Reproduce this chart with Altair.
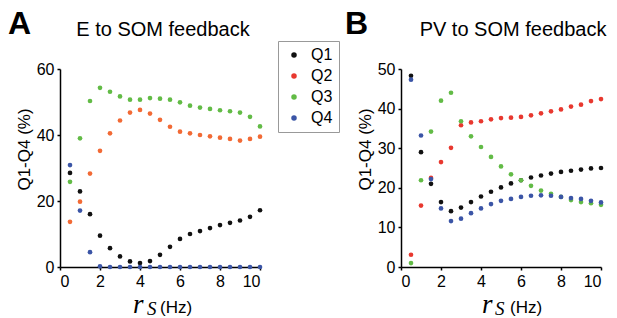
import altair as alt
import pandas as pd

freq = [0.5, 1.0, 1.5, 2.0, 2.5, 3.0, 3.5, 4.0, 4.5, 5.0,
        5.5, 6.0, 6.5, 7.0, 7.5, 8.0, 8.5, 9.0, 9.5, 10.0]
quartiles = ["Q1", "Q2", "Q3", "Q4"]

# Panel A: E to SOM feedback
e_q1 = [28.5, 22.9, 16.0, 9.5, 5.7, 3.2, 1.7, 1.2, 1.8, 3.7,
        6.1, 8.5, 10.0, 10.9, 11.8, 12.7, 13.4, 14.1, 15.2, 17.2]
e_q2 = [13.7, 19.8, 28.3, 35.2, 40.5, 44.4, 46.8, 47.6, 46.5, 44.6,
        42.5, 41.0, 40.5, 40.0, 39.6, 39.2, 38.8, 38.3, 38.8, 39.5]
e_q3 = [25.8, 39.0, 50.3, 54.3, 53.1, 51.7, 50.7, 50.7, 51.2, 51.0,
        50.7, 49.9, 48.9, 48.3, 47.9, 47.5, 47.2, 46.8, 45.5, 42.6]
e_q4 = [30.9, 17.1, 4.5, 0.2, 0.0, 0.0, 0.0, 0.0, 0.0, 0.0,
        0.0, 0.0, 0.0, 0.0, 0.0, 0.0, 0.0, 0.0, 0.0, 0.0]

# Panel B: PV to SOM feedback
pv_q1 = [48.3, 29.0, 21.0, 16.4, 14.1, 15.0, 16.4, 17.8, 19.0, 20.1,
         21.1, 21.9, 22.6, 23.1, 23.6, 24.0, 24.3, 24.6, 24.9, 25.0]
pv_q2 = [3.1, 15.5, 22.5, 26.5, 30.1, 35.8, 36.5, 36.8, 37.3, 37.6,
         37.7, 37.9, 38.3, 38.8, 39.3, 39.8, 40.5, 41.0, 41.9, 42.4]
pv_q3 = [1.0, 21.9, 34.2, 42.0, 44.0, 36.8, 33.0, 30.3, 27.8, 25.4,
         23.4, 21.9, 20.5, 19.3, 18.5, 17.7, 16.9, 16.4, 16.1, 15.7]
pv_q4 = [47.3, 33.2, 22.2, 14.8, 11.6, 12.2, 13.6, 14.8, 15.9, 16.7,
         17.2, 17.7, 18.0, 18.1, 18.0, 17.7, 17.4, 17.2, 16.7, 16.3]

panel_titles = ["E to SOM feedback", "PV to SOM feedback"]
panel_letters = ["A", "B"]
y_title = "Q1-Q4 (%)"
x_label_parts = ["r", "S", "(Hz)"]
x_ticks = [0, 2, 4, 6, 8, 10]
e_yticks = [0, 20, 40, 60]
pv_yticks = [0, 10, 20, 30, 40, 50]

FONT = "Liberation Sans"
SERIF = "Liberation Serif"


def to_long(series):
    rows = []
    for q, vals in zip(quartiles, series):
        for f, v in zip(freq, vals):
            rows.append({"f": f, "v": v, "q": q})
    return pd.DataFrame(rows)


def txt(s, x, y, **kw):
    return alt.Chart(pd.DataFrame({"t": [s]})).mark_text(**kw).encode(
        x=alt.value(x), y=alt.value(y), text="t:N"
    )


def panel(df, ymax, yticks, q2color, title, title_x, letter, letter_x,
          lab_x, legend):
    cscale = alt.Scale(domain=quartiles,
                       range=["#111111", q2color, "#62bb46", "#3b55a6"])
    pts = alt.Chart(df).mark_circle(size=22, opacity=1).encode(
        x=alt.X("f:Q", scale=alt.Scale(domain=[0, 10], nice=False),
                axis=alt.Axis(values=x_ticks, title=None)),
        y=alt.Y("v:Q", scale=alt.Scale(domain=[0, ymax], nice=False),
                axis=alt.Axis(values=yticks, title=y_title,
                              titleX=-27, titleY=80)),
        color=alt.Color("q:N", scale=cscale, legend=legend),
    )
    layers = [
        pts,
        txt(title, title_x, -33, font=FONT, fontSize=20, align="center",
            baseline="alphabetic", color="black"),
        txt(letter, letter_x, -60, font=FONT, fontSize=32, fontWeight="bold",
            align="left", baseline="top", color="black"),
        txt(x_label_parts[0], lab_x[0], 244, font=SERIF, fontSize=27,
            fontStyle="italic", align="left", baseline="alphabetic",
            color="black"),
        txt(x_label_parts[1], lab_x[1], 246, font=SERIF, fontSize=19,
            fontStyle="italic", align="left", baseline="alphabetic",
            color="black"),
        txt(x_label_parts[2], lab_x[2], 244, font=FONT, fontSize=17,
            align="left", baseline="alphabetic", color="black"),
    ]
    return alt.layer(*layers).properties(width=200, height=198)


left = panel(to_long([e_q1, e_q2, e_q3, e_q4]), 60, e_yticks, "#f26a35",
             panel_titles[0], 103, panel_letters[0], -52, [73, 87, 100],
             None)

legend = alt.Legend(orient="none", legendX=-123, legendY=-28, title=None,
                    strokeColor="#999999", fillColor="white", padding=6,
                    symbolType="circle", symbolSize=30, symbolOffset=2,
                    labelFontSize=16, labelFont=FONT, labelColor="black",
                    labelOffset=9, rowPadding=5)

right = panel(to_long([pv_q1, pv_q2, pv_q3, pv_q4]), 50, pv_yticks, "#e8382f",
              panel_titles[1], 112, panel_letters[1], -56, [81, 94, 109],
              legend)

chart = alt.hconcat(left, right, spacing=14).resolve_scale(
    color="independent"
).properties(padding=0).configure_view(stroke=None).configure_axis(
    domainColor="black", domainWidth=1.5, tickColor="black", tickWidth=1.5,
    tickSize=3, labelFontSize=16, labelColor="black", labelFont=FONT,
    titleFont=FONT, titleFontSize=17, titleFontWeight="normal",
    titleColor="black", grid=False, labelPadding=3,
)

chart.save("out.html", embed_options={"renderer": "svg", "actions": False})
